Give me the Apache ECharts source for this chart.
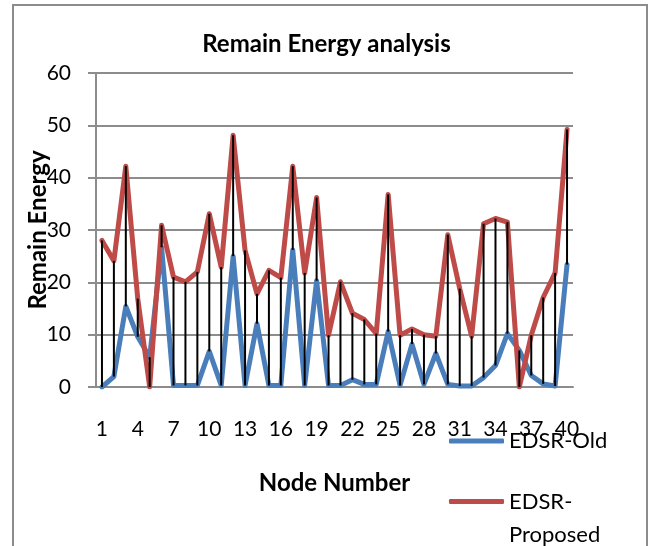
<!DOCTYPE html>
<html>
<head>
<meta charset="utf-8">
<script src="https://cdn.jsdelivr.net/npm/echarts@6/dist/echarts.min.js"></script>
<style>
html,body{margin:0;padding:0;background:#fff;}
#J_Main{width:653px;height:546px;}
</style>
</head>
<body>
<div id="J_Main"></div>
<script>
var nodes=[];
for(var n=1;n<=40;n++){nodes.push(String(n));}

var oldEnergy=[0,2,15.4,9.6,5.7,26.7,0.3,0.3,0.3,6.8,
    0.3,25,0.3,12.1,0.3,0.3,26.2,0.3,20.3,0.3,
    0.3,1.4,0.5,0.5,10.6,0.3,8.2,0.5,6.4,0.5,
    0.2,0.2,1.8,4.1,10.2,7,2.2,0.6,0.2,23.4];

var proposedEnergy=[28,24.1,42.2,16.9,0,30.9,21,20.1,22,33.1,
    22.9,48.1,26.1,17.8,22.3,20.9,42.2,21.8,36.2,9.9,
    20.1,14.1,12.9,10.2,36.8,9.9,11.1,10,9.7,29.1,
    18.8,9.7,31.2,32.2,31.5,0,9.9,17.1,21.8,49.2];

var yTicks={min:0,max:60,interval:10};

// high-low lines between the two series
var hiLowData=nodes.map(function(name,i){
    return [i,Math.min(oldEnergy[i],proposedEnergy[i]),Math.max(oldEnergy[i],proposedEnergy[i])];
});

var FONT="Lato";
var myChart=echarts.init(document.getElementById("J_Main"));
var option={
    animation:false,
    backgroundColor:"#fff",
    textStyle:{fontFamily:FONT,color:"#000"},
    title:{
        text:"Remain Energy analysis",
        left:"center",
        top:27,
        textStyle:{fontFamily:FONT,fontSize:24,fontWeight:"bold",color:"#000"}
    },
    graphic:[{
        type:"rect",
        shape:{x:13,y:5,width:634,height:560},
        style:{fill:"none",stroke:"#8c8c8c",lineWidth:2},
        silent:true
    }],
    legend:[{
        data:["EDSR-Old"],
        orient:"vertical",
        left:444,
        top:423,
        icon:"roundRect",
        itemWidth:55,
        itemHeight:5,
        itemGap:0,
        textStyle:{fontFamily:FONT,fontSize:22,color:"#000",lineHeight:26}
    },{
        data:["EDSR-Proposed"],
        orient:"vertical",
        left:444,
        top:447,
        icon:"roundRect",
        itemWidth:55,
        itemHeight:5,
        textStyle:{fontFamily:FONT,fontSize:22,color:"#000",lineHeight:33},
        formatter:function(){return "\u00a0\nEDSR-\nProposed";}
    }],
    grid:{left:96,right:80,top:73,bottom:159},
    xAxis:{
        type:"category",
        data:nodes,
        boundaryGap:true,
        name:"Node Number",
        nameLocation:"middle",
        nameGap:84,
        nameMoveOverlap:false,
        nameTextStyle:{fontFamily:FONT,fontSize:24,fontWeight:"bold",color:"#000"},
        axisLine:{lineStyle:{color:"#8c8c8c",width:2}},
        axisTick:{show:false},
        axisLabel:{interval:2,margin:32,fontFamily:FONT,fontSize:21,color:"#000"},
        splitLine:{show:false}
    },
    yAxis:{
        type:"value",
        min:yTicks.min,
        max:yTicks.max,
        interval:yTicks.interval,
        name:"Remain Energy",
        nameLocation:"middle",
        nameGap:46,
        nameMoveOverlap:false,
        nameTextStyle:{fontFamily:FONT,fontSize:24,fontWeight:"bold",color:"#000"},
        axisLine:{show:true,lineStyle:{color:"#8c8c8c",width:2}},
        axisTick:{show:true,length:8,lineStyle:{color:"#8c8c8c",width:2}},
        axisLabel:{margin:25,fontFamily:FONT,fontSize:21,color:"#000"},
        splitLine:{lineStyle:{color:"#8c8c8c",width:2}}
    },
    series:[{
        name:"EDSR-Old",
        type:"line",
        data:oldEnergy,
        showSymbol:false,
        symbol:"none",
        z:2,
        itemStyle:{color:"#4A7EBB"},
        lineStyle:{color:"#4A7EBB",width:5,join:"round",cap:"round"}
    },{
        name:"EDSR-Proposed",
        type:"line",
        data:proposedEnergy,
        showSymbol:false,
        symbol:"none",
        z:3,
        itemStyle:{color:"#BE4B48"},
        lineStyle:{color:"#BE4B48",width:5,join:"round",cap:"round"}
    },{
        name:"hilo",
        type:"custom",
        z:5,
        silent:true,
        data:hiLowData,
        renderItem:function(params,api){
            var a=api.coord([api.value(0),api.value(1)]);
            var b=api.coord([api.value(0),api.value(2)]);
            return {
                type:"line",
                shape:{x1:a[0],y1:a[1],x2:b[0],y2:b[1]},
                style:{stroke:"#000",lineWidth:2}
            };
        }
    }]
};
myChart.setOption(option);
</script>
</body>
</html>
